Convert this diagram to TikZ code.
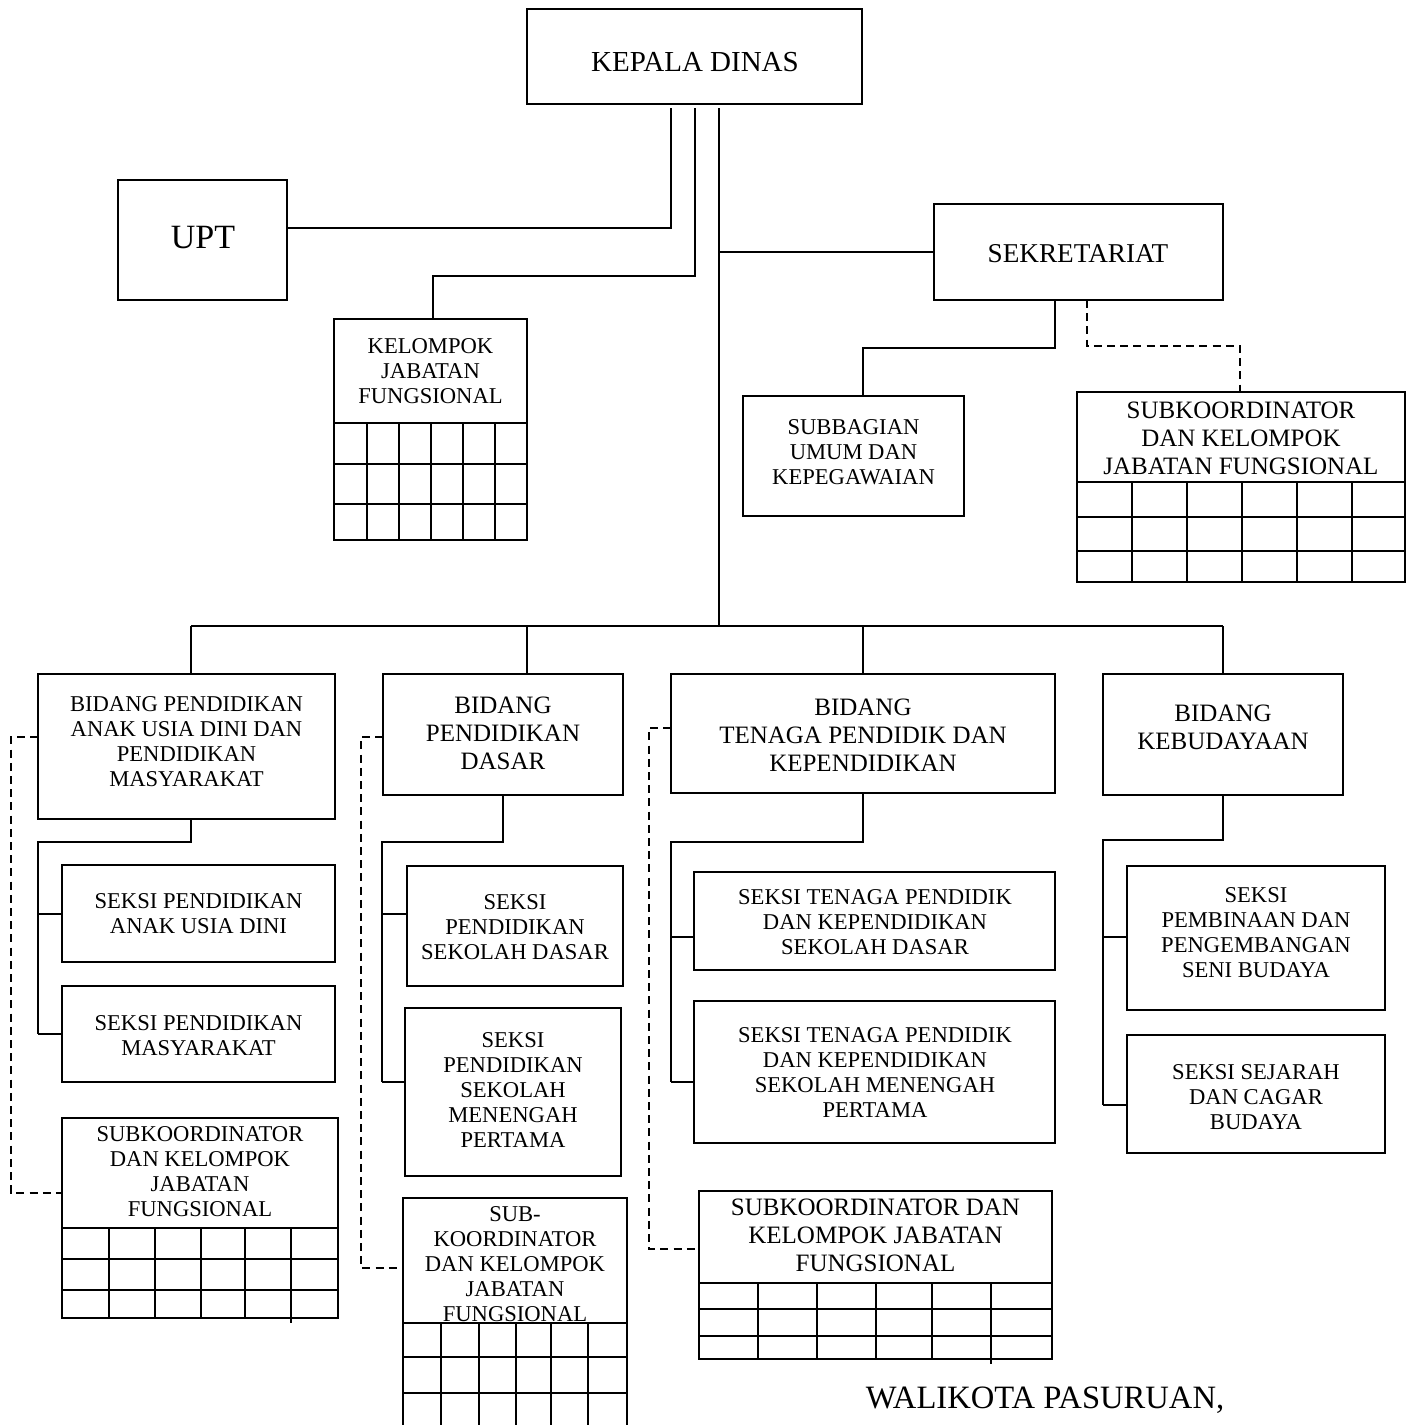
\documentclass[tikz,border=0pt]{standalone}
\usepackage{fontspec}
\setmainfont{Liberation Serif}
\usetikzlibrary{fit}
\tikzset{
  box/.style={draw, line width=1.1pt, inner sep=0pt, outer sep=0pt},
  conn/.style={line width=1pt},
  dconn/.style={line width=1pt, dash pattern=on 4pt off 2.6pt},
  gridl/.style={line width=1pt},
  sm/.style={align=center, inner sep=0pt, font=\fontsize{11.3}{12.5}\selectfont},
  md/.style={align=center, inner sep=0pt, font=\fontsize{12.5}{14}\selectfont}
}
\begin{document}
\begin{tikzpicture}[x=0.5pt,y=-0.5pt]
\useasboundingbox[fill=white] (0,0) rectangle (1417,1425);

% ---------- boxes ----------
\node[box, fit={(527,9)(862,104)}] (kd) {};
\node[box, fit={(118,180)(287,300)}] (upt) {};
\node[box, fit={(334,319)(527,540)}] (kjf) {};
\node[box, fit={(934,204)(1223,300)}] (sek) {};
\node[box, fit={(743,396)(964,516)}] (sub) {};
\node[box, fit={(1077,392)(1405,582)}] (subkR) {};

\node[box, fit={(38,674)(335,819)}] (b1) {};
\node[box, fit={(383,674)(623,795)}] (b2) {};
\node[box, fit={(671,674)(1055,793)}] (b3) {};
\node[box, fit={(1103,674)(1343,795)}] (b4) {};

\node[box, fit={(62,865)(335,962)}] (s11) {};
\node[box, fit={(62,986)(335,1082)}] (s12) {};
\node[box, fit={(62,1118)(338,1318)}] (subk1) {};

\node[box, fit={(407,866)(623,986)}] (s21) {};
\node[box, fit={(405,1008)(621,1176)}] (s22) {};
\node[box, fit={(403,1198)(627,1440)}] (subk2) {};

\node[box, fit={(694,872)(1055,970)}] (s31) {};
\node[box, fit={(694,1001)(1055,1143)}] (s32) {};
\node[box, fit={(699,1191)(1052,1359)}] (subk3) {};

\node[box, fit={(1127,866)(1385,1010)}] (s41) {};
\node[box, fit={(1127,1035)(1385,1153)}] (s42) {};

% ---------- grids ----------
\draw[gridl] (334,423) -- (527,423) (334,464) -- (527,464) (334,504) -- (527,504);
\foreach \c in {367,399,431,463,495} \draw[gridl] (\c,423) -- (\c,540);

\draw[gridl] (1077,482) -- (1405,482) (1077,517) -- (1405,517) (1077,551) -- (1405,551);
\foreach \c in {1132,1187,1242,1297,1352} \draw[gridl] (\c,482) -- (\c,582);

\draw[gridl] (62,1228) -- (338,1228) (62,1259) -- (338,1259) (62,1290) -- (338,1290);
\foreach \c in {109,155,201,245} \draw[gridl] (\c,1228) -- (\c,1318);
\draw[gridl] (291,1228) -- (291,1323);

\draw[gridl] (403,1323) -- (627,1323) (403,1357) -- (627,1357) (403,1393) -- (627,1393);
\foreach \c in {441,479,516,551,588} \draw[gridl] (\c,1323) -- (\c,1440);

\draw[gridl] (699,1283) -- (1052,1283) (699,1309) -- (1052,1309) (699,1336) -- (1052,1336);
\foreach \c in {758,817,876,932} \draw[gridl] (\c,1283) -- (\c,1359);
\draw[gridl] (991,1283) -- (991,1364);

% ---------- texts ----------
\node[inner sep=0pt, font=\fontsize{14.5}{16}\selectfont] (kd-t) at (695,62) {KEPALA DINAS};
\node[inner sep=0pt, font=\fontsize{17}{19}\selectfont] (upt-t) at (203,238) {UPT};
\node[inner sep=0pt, font=\fontsize{13.6}{15}\selectfont] (sek-t) at (1078,254) {SEKRETARIAT};
\node[sm] (kjf-t) at (430.5,371) {KELOMPOK\\JABATAN\\FUNGSIONAL};
\node[sm] (sub-t) at (853.5,452.5) {SUBBAGIAN\\UMUM DAN\\KEPEGAWAIAN};
\node[md] (subkR-t) at (1241,438) {SUBKOORDINATOR\\DAN KELOMPOK\\JABATAN FUNGSIONAL};

\node[sm] (b1-t) at (186.5,741.5) {BIDANG PENDIDIKAN\\ANAK USIA DINI DAN\\PENDIDIKAN\\MASYARAKAT};
\node[md] (b2-t) at (503,733) {BIDANG\\PENDIDIKAN\\DASAR};
\node[md] (b3-t) at (863,735) {BIDANG\\TENAGA PENDIDIK DAN\\KEPENDIDIKAN};
\node[md] (b4-t) at (1223,727) {BIDANG\\KEBUDAYAAN};

\node[sm] (s11-t) at (198.5,914) {SEKSI PENDIDIKAN\\ANAK USIA DINI};
\node[sm] (s12-t) at (198.5,1035.5) {SEKSI PENDIDIKAN\\MASYARAKAT};
\node[sm] (subk1-t) at (200,1172) {SUBKOORDINATOR\\DAN KELOMPOK\\JABATAN\\FUNGSIONAL};

\node[sm] (s21-t) at (515,927.5) {SEKSI\\PENDIDIKAN\\SEKOLAH DASAR};
\node[sm] (s22-t) at (513,1090) {SEKSI\\PENDIDIKAN\\SEKOLAH\\MENENGAH\\PERTAMA};
\node[sm] (subk2-t) at (515,1264) {SUB-\\KOORDINATOR\\DAN KELOMPOK\\JABATAN\\FUNGSIONAL};

\node[sm] (s31-t) at (875,922.5) {SEKSI TENAGA PENDIDIK\\DAN KEPENDIDIKAN\\SEKOLAH DASAR};
\node[sm] (s32-t) at (875,1072.5) {SEKSI TENAGA PENDIDIK\\DAN KEPENDIDIKAN\\SEKOLAH MENENGAH\\PERTAMA};
\node[md] (subk3-t) at (875.5,1235) {SUBKOORDINATOR DAN\\KELOMPOK JABATAN\\FUNGSIONAL};

\node[sm] (s41-t) at (1256,933) {SEKSI\\PEMBINAAN DAN\\PENGEMBANGAN\\SENI BUDAYA};
\node[sm] (s42-t) at (1256,1097.5) {SEKSI SEJARAH\\DAN CAGAR\\BUDAYA};

\node[inner sep=0pt, font=\fontsize{16.3}{18}\selectfont] (wali) at (1045,1400) {WALIKOTA PASURUAN,};

% ---------- connectors ----------
\draw[conn] ([yshift=-2pt]kd.south -| 671,0) -- (671,228) -- (upt.east |- 0,228);
\draw[conn] ([yshift=-2pt]kd.south -| 695,0) -- (695,276) -- (433,276) -- (kjf.north -| 433,0);
\draw[conn] ([yshift=-2pt]kd.south -| 719,0) -- (719,626);
\draw[conn] (719,252) -- (sek.west |- 0,252);

\draw[conn] (sek.south -| 1055,0) -- (1055,348) -- (863,348) -- (sub.north -| 863,0);
\draw[dconn] (sek.south -| 1087,0) -- (1087,346) -- (1240,346) -- (subkR.north -| 1240,0);

\draw[conn] (191,626) -- (1223,626);
\draw[conn] (191,626) -- (b1.north -| 191,0);
\draw[conn] (527,626) -- (b2.north -| 527,0);
\draw[conn] (863,626) -- (b3.north -| 863,0);
\draw[conn] (1223,626) -- (b4.north -| 1223,0);

\draw[conn] (b1.south -| 191,0) -- (191,842) -- (38,842) -- (38,1034);
\draw[conn] (38,914) -- (s11.west |- 0,914);
\draw[conn] (38,1034) -- (s12.west |- 0,1034);
\draw[dconn] (b1.west |- 0,737) -- (11,737) -- (11,1193) -- (subk1.west |- 0,1193);

\draw[conn] (b2.south -| 503,0) -- (503,842) -- (382,842) -- (382,1082);
\draw[conn] (382,914) -- (s21.west |- 0,914);
\draw[conn] (382,1082) -- (s22.west |- 0,1082);
\draw[dconn] (b2.west |- 0,737) -- (361,737) -- (361,1268) -- (subk2.west |- 0,1268);

\draw[conn] (b3.south -| 863,0) -- (863,842) -- (671,842) -- (671,1082);
\draw[conn] (671,937) -- (s31.west |- 0,937);
\draw[conn] (671,1082) -- (s32.west |- 0,1082);
\draw[dconn] (b3.west |- 0,728) -- (649,728) -- (649,1249) -- (subk3.west |- 0,1249);

\draw[conn] (b4.south -| 1223,0) -- (1223,840) -- (1103,840) -- (1103,1105);
\draw[conn] (1103,937) -- (s41.west |- 0,937);
\draw[conn] (1103,1105) -- (s42.west |- 0,1105);
\end{tikzpicture}
\end{document}
